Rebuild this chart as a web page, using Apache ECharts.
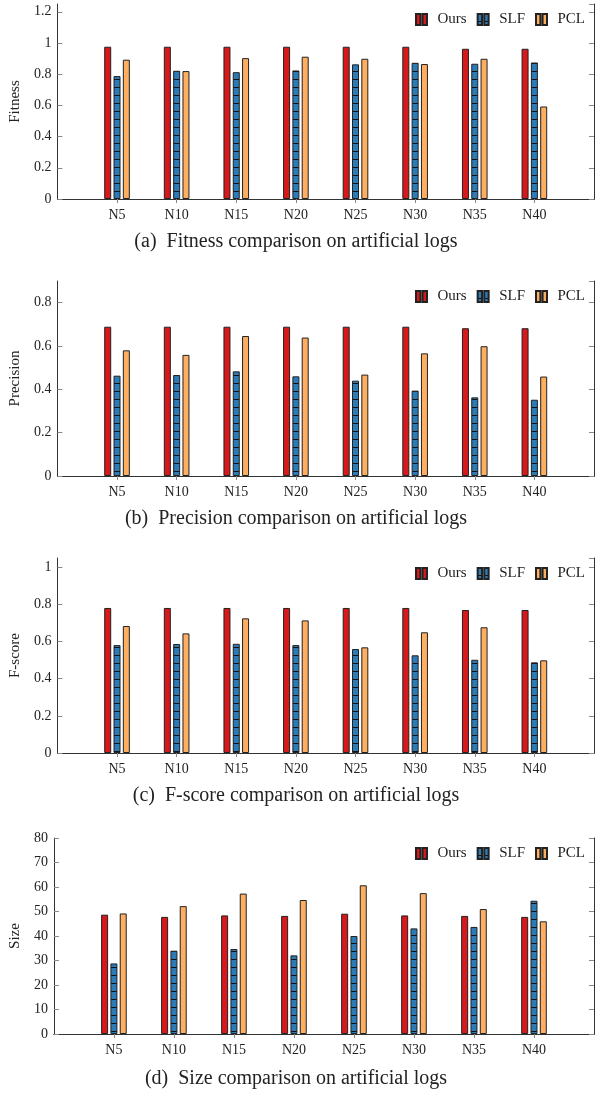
<!DOCTYPE html>
<html>
<head>
<meta charset="utf-8">
<script src="https://cdn.jsdelivr.net/npm/echarts@6/dist/echarts.min.js"></script>
<style>html,body{margin:0;padding:0;background:#fff}#c{width:597px;height:1101px}</style>
</head>
<body>
<div id="c"></div>
<script>
const categories = ['N5','N10','N15','N20','N25','N30','N35','N40'];
const seriesNames = ['Ours','SLF','PCL'];

const fitnessOurs = [0.976,0.976,0.976,0.976,0.976,0.976,0.963,0.963];
const fitnessSLF  = [0.788,0.822,0.813,0.824,0.863,0.873,0.867,0.875];
const fitnessPCL  = [0.893,0.820,0.903,0.912,0.899,0.865,0.899,0.593];

const precisionOurs = [0.689,0.689,0.689,0.689,0.689,0.689,0.682,0.682];
const precisionSLF  = [0.463,0.466,0.483,0.460,0.440,0.394,0.363,0.352];
const precisionPCL  = [0.580,0.559,0.646,0.639,0.468,0.566,0.599,0.459];

const fscoreOurs = [0.781,0.781,0.781,0.781,0.781,0.781,0.770,0.770];
const fscoreSLF  = [0.581,0.587,0.588,0.581,0.560,0.526,0.502,0.488];
const fscorePCL  = [0.684,0.644,0.725,0.714,0.569,0.650,0.677,0.499];

const sizeOurs = [48.7,47.8,48.4,48.2,49.1,48.4,48.2,47.8];
const sizeSLF  = [28.8,34.0,34.7,32.1,40.0,43.1,43.7,54.4];
const sizePCL  = [49.2,52.2,57.3,54.7,60.7,57.5,51.0,46.0];

const yNames = ['Fitness','Precision','F-score','Size'];
const yMax = [1.25, 0.9, 1.05, 80];
const yInterval = [0.2, 0.2, 0.2, 10];
const captions = ['(a)  Fitness comparison on artificial logs','(b)  Precision comparison on artificial logs','(c)  F-score comparison on artificial logs','(d)  Size comparison on artificial logs'];

const panelData = [
  [fitnessOurs, fitnessSLF, fitnessPCL],
  [precisionOurs, precisionSLF, precisionPCL],
  [fscoreOurs, fscoreSLF, fscorePCL],
  [sizeOurs, sizeSLF, sizePCL]
];

// layout
const grids = [
  {left:53, right:3, top:4, height:195},
  {left:53, right:3, top:281, height:195},
  {left:53, right:3, top:558, height:195},
  {left:49, right:3, top:838, height:196}
];
const captionY = [242, 519, 796, 1079];
const FONT = "'Liberation Serif', 'Times New Roman', 'DejaVu Serif', serif";
const AX = '#333';

// SLF hatch pattern
const pat = document.createElement('canvas');
pat.width = 8; pat.height = 8;
const pctx = pat.getContext('2d');
pctx.fillStyle = '#2c7bb6'; pctx.fillRect(0,0,8,8);
pctx.fillStyle = '#111'; pctx.fillRect(0,7,8,1.2);

const colors = ['#d7191c', {image: pat, repeat: 'repeat'}, '#fdae61'];
const paddedCats = [''].concat(categories, ['']);
const tickFn = (i) => i > 0 && i < paddedCats.length - 1;

const xAxes = [], yAxes = [], series = [], graphics = [], legends = [];
grids.forEach((g, p) => {
  xAxes.push({
    type:'category', gridIndex:p, data:paddedCats, boundaryGap:false, position:'bottom',
    axisLine:{lineStyle:{color:AX, width:1}},
    axisTick:{show:true, inside:false, length:4, interval:tickFn, lineStyle:{color:'#888'}},
    axisLabel:{show:true, interval:0, margin:9, color:'#222', fontFamily:FONT, fontSize:14},
    splitLine:{show:false}
  });
  xAxes.push({
    type:'category', gridIndex:p, data:paddedCats, boundaryGap:false, position:'top',
    axisLine:{lineStyle:{color:AX, width:1}},
    axisTick:{show:true, inside:false, length:5, interval:tickFn, lineStyle:{color:'#888'}},
    axisLabel:{show:false}, splitLine:{show:false}
  });
  yAxes.push({
    type:'value', gridIndex:p, min:0, max:yMax[p], interval:yInterval[p], position:'left',
    name:yNames[p], nameLocation:'middle', nameGap:(p===3?28:32), nameRotate:90,
    nameTextStyle:{color:'#222', fontFamily:FONT, fontSize:15},
    axisLine:{show:true, lineStyle:{color:AX, width:1}},
    axisTick:{show:true, inside:true, length:5, lineStyle:{color:'#888'}},
    axisLabel:{color:'#222', fontFamily:FONT, fontSize:14, margin:6, showMaxLabel:(p===3)},
    splitLine:{show:false}
  });
  yAxes.push({
    type:'value', gridIndex:p, min:0, max:yMax[p], interval:yInterval[p], position:'right',
    axisLine:{show:true, lineStyle:{color:AX, width:1}},
    axisTick:{show:true, inside:true, length:5, lineStyle:{color:'#888'}},
    axisLabel:{show:false}, splitLine:{show:false}
  });
  panelData[p].forEach((vals, s) => {
    series.push({
      type:'bar', name:seriesNames[s], xAxisIndex:2*p, yAxisIndex:2*p,
      data:[null].concat(vals, [null]),
      barWidth:7, barGap:'33%',
      itemStyle:{color:colors[s], borderColor:'#222', borderWidth:1},
      emphasis:{disabled:true}, animation:false
    });
  });
  graphics.push({
    type:'text', x:296, y:captionY[p],
    style:{text:captions[p], textAlign:'center', textVerticalAlign:'middle',
      font:'20px ' + FONT, fill:'#222'}
  });
  legends.push({
    data:seriesNames, right:12, top:g.top + 8, padding:0,
    itemWidth:14, itemHeight:11, itemGap:10,
    icon:'path://M0,0h4v10h-4z M6,0h4v10h-4z',
    textStyle:{fontFamily:FONT, fontSize:15, color:'#222', padding:[0,0,0,4]},
    selectedMode:false
  });
});

const chart = echarts.init(document.getElementById('c'), null, {renderer:'canvas'});
chart.setOption({
  animation:false,
  grid:grids,
  xAxis:xAxes,
  yAxis:yAxes,
  series:series,
  graphic:graphics,
  legend:legends
});
</script>
</body>
</html>
